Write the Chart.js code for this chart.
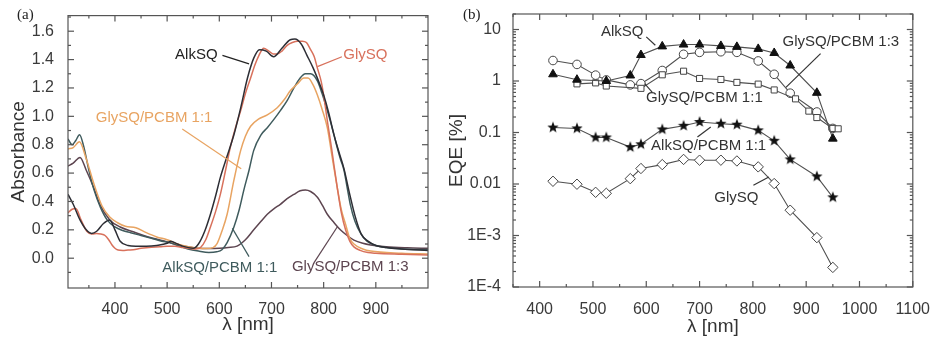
<!DOCTYPE html>
<html>
<head>
<meta charset="utf-8">
<script src="https://cdn.jsdelivr.net/npm/chart.js@4.4.1/dist/chart.umd.min.js"></script>
<style>
  body { margin: 0; background: #fff; }
  #wrap { position: relative; width: 935px; height: 339px; overflow: hidden; }
  canvas { position: absolute; top: 0; }
  #absChart { left: 0; }
  #eqeChart { left: 440px; }
  .tag { position: absolute; top: 6px; font: 15px "Liberation Serif", "Times New Roman", serif; color: #222; }
</style>
</head>
<body>
<div id="wrap">
  <canvas id="absChart" width="440" height="339"></canvas>
  <canvas id="eqeChart" width="495" height="339"></canvas>
  <div class="tag" style="left:17px">(a)</div>
  <div class="tag" style="left:463px">(b)</div>
</div>
<script>
// ---- (a) absorbance spectra ----
const alkNm = [310, 320, 333, 345, 355, 365, 378, 390, 400, 410, 425, 440, 460, 480, 500, 507, 520, 535, 550, 560, 572, 583, 593, 602, 615, 628, 641, 654, 666, 677, 690, 704, 720, 736, 745, 757, 768, 780, 790, 800, 810, 819, 830, 839, 850, 860, 872, 885, 900, 920, 950, 1000];
const alkAbs = [0.45, 0.38, 0.27, 0.2, 0.175, 0.19, 0.245, 0.27, 0.2, 0.12, 0.09, 0.085, 0.085, 0.09, 0.105, 0.12, 0.1, 0.08, 0.07, 0.1, 0.19, 0.31, 0.44, 0.57, 0.72, 0.87, 1.06, 1.27, 1.41, 1.47, 1.46, 1.42, 1.48, 1.54, 1.545, 1.51, 1.43, 1.34, 1.25, 1.15, 1.02, 0.88, 0.74, 0.63, 0.45, 0.3, 0.17, 0.12, 0.09, 0.075, 0.065, 0.055];

const glyNm = [310, 318, 325, 335, 346, 356, 365, 373, 381, 388, 394, 400, 406, 415, 425, 435, 450, 470, 486, 500, 515, 530, 545, 555, 564, 574, 583, 593, 602, 612, 621, 631, 641, 650, 660, 668, 676, 685, 695, 703, 711, 720, 730, 740, 750, 759, 767, 775, 782, 788, 795, 800, 807, 815, 820, 826, 834, 842, 850, 858, 870, 885, 900, 950, 1000];
const glyAbs = [0.32, 0.345, 0.35, 0.27, 0.19, 0.17, 0.175, 0.17, 0.16, 0.13, 0.095, 0.07, 0.058, 0.055, 0.058, 0.06, 0.07, 0.078, 0.08, 0.085, 0.085, 0.075, 0.068, 0.065, 0.075, 0.13, 0.22, 0.33, 0.45, 0.62, 0.78, 0.92, 1.04, 1.16, 1.27, 1.36, 1.43, 1.48, 1.46, 1.44, 1.44, 1.46, 1.5, 1.52, 1.53, 1.53, 1.52, 1.47, 1.42, 1.34, 1.25, 1.15, 0.97, 0.78, 0.65, 0.5, 0.32, 0.2, 0.12, 0.08, 0.055, 0.04, 0.035, 0.028, 0.022];

const glyPcbm11Nm = [310, 320, 332, 345, 360, 375, 390, 405, 420, 440, 460, 480, 500, 520, 540, 560, 575, 588, 596, 605, 615, 628, 641, 650, 660, 675, 692, 711, 725, 736, 750, 762, 770, 780, 788, 797, 807, 816, 826, 834, 842, 850, 858, 875, 890, 950, 1000];
const glyPcbm11Abs = [0.77, 0.78, 0.82, 0.7, 0.52, 0.37, 0.29, 0.25, 0.225, 0.215, 0.18, 0.15, 0.13, 0.1, 0.08, 0.07, 0.068, 0.075, 0.105, 0.19, 0.31, 0.55, 0.76, 0.86, 0.93, 0.98, 1.01, 1.06, 1.12, 1.18, 1.23, 1.27, 1.27, 1.22, 1.15, 1.05, 0.92, 0.72, 0.5, 0.34, 0.24, 0.14, 0.1, 0.065, 0.05, 0.035, 0.03];

const alkPcbm11Nm = [310, 318, 325, 332, 340, 350, 360, 372, 385, 400, 415, 430, 450, 470, 490, 505, 520, 540, 560, 580, 595, 605, 615, 628, 638, 647, 657, 666, 680, 692, 705, 717, 730, 743, 755, 765, 775, 788, 797, 807, 817, 826, 832, 839, 845, 851, 860, 871, 883, 896, 920, 950, 1000];
const alkPcbm11Abs = [0.84, 0.8, 0.83, 0.87, 0.79, 0.62, 0.48, 0.36, 0.27, 0.22, 0.195, 0.18, 0.16, 0.14, 0.12, 0.11, 0.09, 0.065, 0.05, 0.04, 0.045, 0.06, 0.11, 0.22, 0.34, 0.48, 0.62, 0.76, 0.87, 0.92, 0.98, 1.04, 1.11, 1.2, 1.27, 1.3, 1.3, 1.25, 1.16, 1.04, 0.91, 0.78, 0.7, 0.62, 0.5, 0.38, 0.26, 0.175, 0.12, 0.095, 0.075, 0.065, 0.06];

const glyPcbm13Nm = [310, 320, 333, 345, 359, 371, 390, 410, 435, 455, 473, 499, 520, 540, 560, 580, 600, 617, 634, 650, 666, 680, 692, 705, 717, 730, 743, 755, 765, 775, 788, 798, 807, 820, 832, 845, 858, 875, 890, 920, 960, 1000];
const glyPcbm13Abs = [0.65, 0.67, 0.71, 0.62, 0.5, 0.38, 0.27, 0.22, 0.186, 0.16, 0.14, 0.116, 0.095, 0.08, 0.07, 0.068, 0.07, 0.075, 0.085, 0.13, 0.2, 0.26, 0.31, 0.35, 0.38, 0.42, 0.45, 0.475, 0.48, 0.47, 0.43, 0.37, 0.31, 0.25, 0.2, 0.16, 0.128, 0.105, 0.093, 0.08, 0.073, 0.07];

const absTicksX = [400, 500, 600, 700, 800, 900];
const absTicksY = [0, 0.2, 0.4, 0.6, 0.8, 1.0, 1.2, 1.4, 1.6];

// ---- (b) external quantum efficiency ----
const eqeAlkNm = [425, 470, 525, 570, 590, 630, 670, 700, 740, 770, 810, 840, 870, 920, 950];
const eqeAlk = [1.35, 1.06, 1.0, 1.28, 3.2, 4.7, 5.1, 5.1, 4.8, 4.6, 4.2, 3.5, 2.0, 0.59, 0.076];

const eqeGlyPcbm13Nm = [425, 470, 505, 525, 570, 590, 630, 670, 700, 740, 770, 810, 840, 870, 920, 950];
const eqeGlyPcbm13 = [2.5, 2.1, 1.3, 1.05, 0.84, 0.89, 1.6, 3.3, 3.6, 3.7, 3.6, 2.45, 1.35, 0.58, 0.25, 0.12];

const eqeGlyPcbm11Nm = [470, 505, 525, 590, 630, 670, 700, 740, 770, 810, 840, 880, 905, 920, 950, 960];
const eqeGlyPcbm11 = [0.88, 0.92, 0.8, 0.72, 1.32, 1.55, 1.12, 1.07, 0.94, 0.87, 0.67, 0.45, 0.26, 0.195, 0.12, 0.118];

const eqeAlkPcbm11Nm = [425, 470, 505, 525, 570, 590, 630, 670, 700, 740, 770, 810, 840, 870, 920, 950];
const eqeAlkPcbm11 = [0.125, 0.12, 0.08, 0.08, 0.052, 0.059, 0.115, 0.135, 0.16, 0.148, 0.142, 0.11, 0.069, 0.030, 0.014, 0.0055];

const eqeGlyNm = [425, 470, 505, 525, 570, 590, 630, 670, 700, 740, 770, 810, 840, 870, 920, 950];
const eqeGly = [0.0113, 0.0099, 0.0069, 0.0066, 0.0127, 0.020, 0.0238, 0.030, 0.029, 0.029, 0.028, 0.0215, 0.0102, 0.0031, 0.00091, 0.00024];

const eqeTicksX = [400, 500, 600, 700, 800, 900, 1000, 1100];
const eqeTicksY = [1e-4, 1e-3, 0.01, 0.1, 1, 10];
const eqeTickLabels = ['1E-4', '1E-3', '0.01', '0.1', '1', '10'];

const sans = '"Liberation Sans", Arial, sans-serif';
const tickFont = { family: sans, size: 16 };
const titleFont = { family: sans, size: 19 };
const inkTick = '#3a3a3a';

function pairs(xs, ys) {
  return xs.map((x, i) => ({ x: x, y: ys[i] }));
}

function line(ctx, x1, y1, x2, y2) {
  ctx.beginPath();
  ctx.moveTo(x1, y1);
  ctx.lineTo(x2, y2);
  ctx.stroke();
}

// box around the plot with inward ticks on every side
function framePlugin(xMajor, xMinor, yMajor, yMinor) {
  return {
    id: 'frame',
    afterDraw(chart) {
      const { ctx, chartArea: a } = chart;
      const sx = chart.scales.x, sy = chart.scales.y;
      ctx.save();
      ctx.strokeStyle = '#555';
      ctx.lineWidth = 1.2;
      const xt = (vals, len) => vals.forEach(v => {
        const p = sx.getPixelForValue(v);
        if (p < a.left || p > a.right) return;
        line(ctx, p, a.bottom, p, a.bottom - len);
        line(ctx, p, a.top, p, a.top + len);
      });
      const yt = (vals, len) => vals.forEach(v => {
        const p = sy.getPixelForValue(v);
        if (p < a.top || p > a.bottom) return;
        line(ctx, a.left, p, a.left + len, p);
        line(ctx, a.right, p, a.right - len, p);
      });
      xt(xMajor, 6); xt(xMinor, 3);
      yt(yMajor, 6); yt(yMinor, 3);
      ctx.strokeRect(a.left, a.top, a.right - a.left, a.bottom - a.top);
      ctx.restore();
    }
  };
}

// curve names with their pointer lines, placed in data units
function notesPlugin(notes) {
  return {
    id: 'notes',
    afterDraw(chart) {
      const { ctx } = chart;
      const sx = chart.scales.x, sy = chart.scales.y;
      ctx.save();
      ctx.font = '15px ' + sans;
      ctx.textAlign = 'center';
      ctx.textBaseline = 'middle';
      ctx.lineWidth = 1.2;
      notes.forEach(n => {
        ctx.strokeStyle = n.color;
        line(ctx, sx.getPixelForValue(n.from[0]), sy.getPixelForValue(n.from[1]),
                  sx.getPixelForValue(n.to[0]), sy.getPixelForValue(n.to[1]));
        ctx.fillStyle = n.color;
        ctx.fillText(n.text, sx.getPixelForValue(n.at[0]), sy.getPixelForValue(n.at[1]));
      });
      ctx.restore();
    }
  };
}

function starMark(r) {
  const c = document.createElement('canvas');
  const s = Math.ceil(r * 2 + 2);
  c.width = c.height = s;
  const g = c.getContext('2d');
  g.fillStyle = '#111';
  g.beginPath();
  for (let i = 0; i < 10; i++) {
    const rr = i % 2 ? r * 0.42 : r;
    const ang = -Math.PI / 2 + i * Math.PI / 5;
    g.lineTo(s / 2 + rr * Math.cos(ang), s / 2 + rr * Math.sin(ang));
  }
  g.closePath();
  g.fill();
  return c;
}

const cAlk = '#2d2e35', cGly = '#d8715c', cGly11 = '#e8a462', cAlk11 = '#3f5b5d', cGly13 = '#5d4550';

function spectrum(data, color) {
  return { data: data, borderColor: color, borderWidth: 1.5, pointRadius: 0, cubicInterpolationMode: 'monotone', fill: false };
}

const xMinorA = [], yMinorA = [];
for (let v = 350; v <= 1000; v += 100) xMinorA.push(v);
for (let v = -0.1; v < 1.75; v += 0.2) yMinorA.push(Math.round(v * 10) / 10);

new Chart(document.getElementById('absChart'), {
  type: 'line',
  data: {
    datasets: [
      spectrum(pairs(alkNm, alkAbs), cAlk),
      spectrum(pairs(glyNm, glyAbs), cGly),
      spectrum(pairs(glyPcbm11Nm, glyPcbm11Abs), cGly11),
      spectrum(pairs(alkPcbm11Nm, alkPcbm11Abs), cAlk11),
      spectrum(pairs(glyPcbm13Nm, glyPcbm13Abs), cGly13)
    ]
  },
  options: {
    responsive: false,
    animation: false,
    devicePixelRatio: 1,
    layout: { padding: { left: 0, right: 12, top: 14, bottom: 0 } },
    plugins: { legend: { display: false }, tooltip: { enabled: false } },
    scales: {
      x: {
        type: 'linear', min: 310, max: 1000,
        grid: { display: false }, border: { display: false },
        afterBuildTicks: s => { s.ticks = absTicksX.map(v => ({ value: v })); },
        afterFit: s => { s.height = 51; },
        ticks: { font: tickFont, color: inkTick, padding: 4, maxRotation: 0, autoSkip: false, callback: v => String(v) },
        title: { display: true, text: 'λ [nm]', font: titleFont, color: '#333', padding: { top: 0, bottom: 3 } }
      },
      y: {
        type: 'linear', min: -0.21, max: 1.71,
        grid: { display: false }, border: { display: false },
        afterBuildTicks: s => { s.ticks = absTicksY.map(v => ({ value: v })); },
        afterFit: s => { s.width = 68; },
        ticks: { font: tickFont, color: inkTick, padding: 6, autoSkip: false, callback: v => v.toFixed(1) },
        title: { display: true, text: 'Absorbance', font: titleFont, color: '#333', padding: { top: 7, bottom: 0 } }
      }
    }
  },
  plugins: [
    framePlugin(absTicksX, xMinorA, absTicksY, yMinorA),
    notesPlugin([
      { text: 'AlkSQ', color: '#222', at: [556, 1.43], from: [606, 1.43], to: [657, 1.37] },
      { text: 'GlySQ', color: cGly, at: [880, 1.43], from: [835, 1.42], to: [788, 1.35] },
      { text: 'GlySQ/PCBM 1:1', color: cGly11, at: [475, 0.99], from: [529, 0.91], to: [642, 0.63] },
      { text: 'AlkSQ/PCBM 1:1', color: cAlk11, at: [601, -0.07], from: [657, 0.011], to: [625, 0.21] },
      { text: 'GlySQ/PCBM 1:3', color: cGly13, at: [851, -0.059], from: [781, -0.035], to: [826, 0.22] }
    ])
  ]
});

// ---- (b) ----
const xMinorB = [];
for (let v = 350; v <= 1100; v += 100) xMinorB.push(v);
const yMinorB = [];
eqeTicksY.forEach(d => { for (let k = 2; k <= 9; k++) if (k * d <= 20) yMinorB.push(k * d); });

const grey = '#505050';
function eqeSeries(data, style, radius, fill) {
  return {
    data: data, showLine: true, borderColor: grey, borderWidth: 1.1,
    pointStyle: style, pointRadius: radius, pointBorderWidth: 1,
    pointBorderColor: fill === '#fff' ? '#444' : '#111', pointBackgroundColor: fill
  };
}

new Chart(document.getElementById('eqeChart'), {
  type: 'line',
  data: {
    datasets: [
      eqeSeries(pairs(eqeAlkNm, eqeAlk), 'triangle', 5, '#111'),
      eqeSeries(pairs(eqeGlyPcbm11Nm, eqeGlyPcbm11), 'rect', 4.3, '#fff'),
      eqeSeries(pairs(eqeGlyPcbm13Nm, eqeGlyPcbm13), 'circle', 4.3, '#fff'),
      eqeSeries(pairs(eqeAlkPcbm11Nm, eqeAlkPcbm11), starMark(6), 6, '#111'),
      eqeSeries(pairs(eqeGlyNm, eqeGly), 'rectRot', 5.2, '#fff')
    ]
  },
  options: {
    responsive: false,
    animation: false,
    devicePixelRatio: 1,
    layout: { padding: { left: 0, right: 21, top: 14, bottom: 0 } },
    plugins: { legend: { display: false }, tooltip: { enabled: false } },
    scales: {
      x: {
        type: 'linear', min: 350, max: 1100,
        grid: { display: false }, border: { display: false },
        afterBuildTicks: s => { s.ticks = eqeTicksX.map(v => ({ value: v })); },
        afterFit: s => { s.height = 52; },
        ticks: { font: tickFont, color: inkTick, padding: 5, maxRotation: 0, autoSkip: false, callback: v => String(v) },
        title: { display: true, text: 'λ [nm]', font: titleFont, color: '#333', padding: { top: 0, bottom: 1 } }
      },
      y: {
        type: 'logarithmic', min: 1e-4, max: 20,
        grid: { display: false }, border: { display: false },
        afterBuildTicks: s => { s.ticks = eqeTicksY.map(v => ({ value: v })); },
        afterFit: s => { s.width = 73; },
        ticks: { font: tickFont, color: inkTick, padding: 4, autoSkip: false, callback: v => eqeTickLabels[eqeTicksY.indexOf(v)] },
        title: { display: true, text: 'EQE [%]', font: titleFont, color: '#333', padding: { top: 5, bottom: 0 } }
      }
    }
  },
  plugins: [
    framePlugin(eqeTicksX, xMinorB, eqeTicksY, yMinorB),
    notesPlugin([
      { text: 'AlkSQ', color: '#333', at: [555, 8.87], from: [600, 7.2], to: [617, 4.96] },
      { text: 'GlySQ/PCBM 1:3', color: '#333', at: [965, 5.74], from: [927, 3.4], to: [862, 0.75] },
      { text: 'GlySQ/PCBM 1:1', color: '#333', at: [709, 0.477], from: [611, 0.61], to: [597, 0.89] },
      { text: 'AlkSQ/PCBM 1:1', color: '#333', at: [717, 0.054], from: [696, 0.082], to: [721, 0.128] },
      { text: 'GlySQ', color: '#333', at: [769, 0.00527], from: [801, 0.00944], to: [830, 0.0137] }
    ])
  ]
});
</script>
</body>
</html>
